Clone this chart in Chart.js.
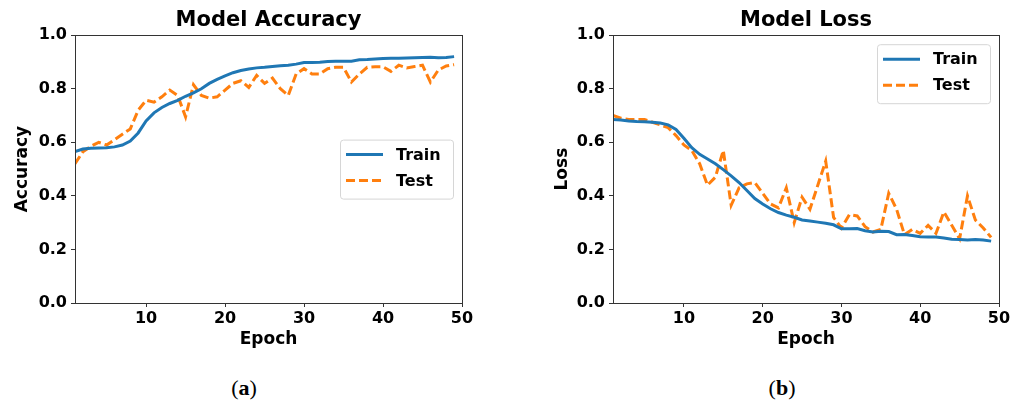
<!DOCTYPE html>
<html>
<head>
<meta charset="utf-8">
<script src="https://cdn.jsdelivr.net/npm/chart.js@4/dist/chart.umd.min.js"></script>
<style>
  html, body { margin: 0; padding: 0; background: #fff; }
  body { width: 1021px; height: 403px; position: relative; overflow: hidden; }
  .wrap { position: absolute; top: 0; }
  .cap { position: absolute; top: 375px; font-family: "Liberation Serif", "DejaVu Serif", serif; font-size: 22px; color: #000; transform: translateX(-50%); white-space: nowrap; }
  .cap b { font-weight: bold; }
</style>
</head>
<body>
<div class="wrap" style="left:0px;"><canvas id="acc" width="520" height="360"></canvas></div>
<div class="wrap" style="left:540px;"><canvas id="loss" width="481" height="360"></canvas></div>
<div class="cap" style="left:244px;">(<b>a</b>)</div>
<div class="cap" style="left:782px;">(<b>b</b>)</div>
<script>
const epochs = [1,2,3,4,5,6,7,8,9,10,11,12,13,14,15,16,17,18,19,20,21,22,23,24,25,26,27,28,29,30,31,32,33,34,35,36,37,38,39,40,41,42,43,44,45,46,47,48,49];
const accTrain = [0.565,0.575,0.578,0.579,0.580,0.583,0.590,0.605,0.635,0.680,0.710,0.730,0.745,0.757,0.772,0.785,0.800,0.820,0.835,0.848,0.860,0.868,0.874,0.878,0.880,0.883,0.886,0.888,0.892,0.898,0.898,0.899,0.902,0.903,0.903,0.903,0.908,0.909,0.911,0.913,0.914,0.914,0.915,0.916,0.917,0.918,0.916,0.917,0.920];
const accTest = [0.520,0.565,0.585,0.600,0.590,0.610,0.630,0.650,0.720,0.757,0.750,0.770,0.795,0.775,0.695,0.815,0.775,0.765,0.770,0.795,0.820,0.830,0.805,0.850,0.820,0.840,0.800,0.775,0.855,0.875,0.855,0.855,0.875,0.880,0.880,0.825,0.855,0.880,0.882,0.882,0.865,0.888,0.878,0.883,0.888,0.825,0.870,0.885,0.890];
const lossTrain = [0.685,0.683,0.680,0.678,0.677,0.675,0.672,0.665,0.648,0.615,0.580,0.555,0.538,0.520,0.498,0.475,0.450,0.420,0.390,0.370,0.352,0.338,0.328,0.320,0.310,0.306,0.302,0.298,0.292,0.277,0.277,0.278,0.270,0.265,0.268,0.267,0.255,0.256,0.252,0.247,0.246,0.246,0.243,0.238,0.237,0.235,0.237,0.235,0.231];
const lossTest = [0.700,0.690,0.685,0.685,0.685,0.675,0.665,0.655,0.625,0.590,0.570,0.520,0.440,0.470,0.570,0.365,0.430,0.445,0.450,0.410,0.370,0.355,0.430,0.300,0.395,0.350,0.440,0.530,0.320,0.280,0.330,0.325,0.285,0.265,0.275,0.410,0.350,0.255,0.275,0.260,0.290,0.260,0.340,0.290,0.240,0.400,0.310,0.280,0.245];
const xTicks = [10, 20, 30, 40, 50];
const yTicks = [0.0, 0.2, 0.4, 0.6, 0.8, 1.0];
const seriesNames = ['Train', 'Test'];

const BLUE = '#1f77b4', ORANGE = '#ff7f0e', AXIS = '#333333';
const FONT = "'DejaVu Sans', sans-serif";

const framePlugin = {
  id: 'frame',
  afterDraw(chart) {
    const {ctx, chartArea: a} = chart;
    ctx.save();
    ctx.strokeStyle = AXIS;
    ctx.lineWidth = 1;
    ctx.strokeRect(Math.round(a.left) + 0.5, Math.round(a.top) + 0.5, Math.round(a.right - a.left), Math.round(a.bottom - a.top));
    ctx.restore();
  }
};

const legendPlugin = {
  id: 'mplLegend',
  afterDraw(chart, args, opts) {
    const {ctx, chartArea: a} = chart;
    const w = 113, h = 59;
    const x = a.right - 9 - w;
    const y = opts.place === 'center' ? (a.top + a.bottom) / 2 - h / 2 : a.top + 9;
    ctx.save();
    ctx.beginPath();
    ctx.roundRect(x + 0.5, y + 0.5, w, h, 3);
    ctx.fillStyle = 'rgba(255,255,255,0.8)';
    ctx.fill();
    ctx.strokeStyle = '#d6d6d6';
    ctx.lineWidth = 1;
    ctx.stroke();
    chart.data.datasets.forEach((ds, i) => {
      const ly = y + 15 + i * 26;
      ctx.beginPath();
      ctx.setLineDash(ds.borderDash || []);
      ctx.strokeStyle = ds.borderColor;
      ctx.lineWidth = ds.borderWidth;
      ctx.moveTo(x + 6, ly);
      ctx.lineTo(x + 43, ly);
      ctx.stroke();
      ctx.setLineDash([]);
      ctx.fillStyle = '#000';
      ctx.font = "bold 16px " + FONT;
      ctx.textBaseline = 'middle';
      ctx.textAlign = 'left';
      ctx.fillText(ds.label, x + 56, ly + 1);
    });
    ctx.restore();
  }
};

function makeChart(id, title, yLabel, train, test, legendPlace, padRight, yWidth) {
  const toPts = arr => arr.map((v, i) => ({x: epochs[i], y: v}));
  return new Chart(document.getElementById(id), {
    type: 'line',
    data: {
      datasets: [
        {label: seriesNames[0], data: toPts(train), borderColor: BLUE, backgroundColor: BLUE, borderWidth: 3, pointRadius: 0, tension: 0, fill: false},
        {label: seriesNames[1], data: toPts(test), borderColor: ORANGE, backgroundColor: ORANGE, borderWidth: 3, borderDash: [9, 4], pointRadius: 0, tension: 0, fill: false}
      ]
    },
    options: {
      responsive: false,
      animation: false,
      devicePixelRatio: 1,
      layout: {padding: {left: 0, right: padRight, top: 0, bottom: 7}},
      plugins: {
        legend: {display: false},
        tooltip: {enabled: false},
        title: {display: true, text: title, fullSize: false, color: '#000', font: {family: FONT, size: 21, weight: 'bold'}, padding: {top: 8, bottom: 2}},
        mplLegend: {place: legendPlace}
      },
      scales: {
        x: {
          type: 'linear', min: 1, max: 50,
          afterBuildTicks: s => { s.ticks = xTicks.map(v => ({value: v})); },
          afterFit: s => { s.height = 50; },
          grid: {drawOnChartArea: false, drawTicks: true, tickLength: 4, color: AXIS},
          border: {display: false},
          ticks: {color: '#000', font: {family: FONT, size: 16, weight: 'bold'}, padding: 2, maxRotation: 0, callback: v => String(v)},
          title: {display: true, text: 'Epoch', color: '#000', font: {family: FONT, size: 17, weight: 'bold'}, padding: {top: 0, bottom: 3}}
        },
        y: {
          type: 'linear', min: 0, max: 1,
          afterBuildTicks: s => { s.ticks = yTicks.map(v => ({value: v})); },
          afterFit: s => { s.width = yWidth; },
          grid: {drawOnChartArea: false, drawTicks: true, tickLength: 4, color: AXIS},
          border: {display: false},
          ticks: {color: '#000', font: {family: FONT, size: 16, weight: 'bold'}, padding: 4, callback: v => Number(v).toFixed(1)},
          title: {display: true, text: yLabel, color: '#000', font: {family: FONT, size: 17, weight: 'bold'}, padding: {top: 12, bottom: 0}}
        }
      }
    },
    plugins: [framePlugin, legendPlugin]
  });
}

makeChart('acc', 'Model Accuracy', 'Accuracy', accTrain, accTest, 'center', 58, 75);
makeChart('loss', 'Model Loss', 'Loss', lossTrain, lossTest, 'top', 22, 73);
</script>
</body>
</html>
